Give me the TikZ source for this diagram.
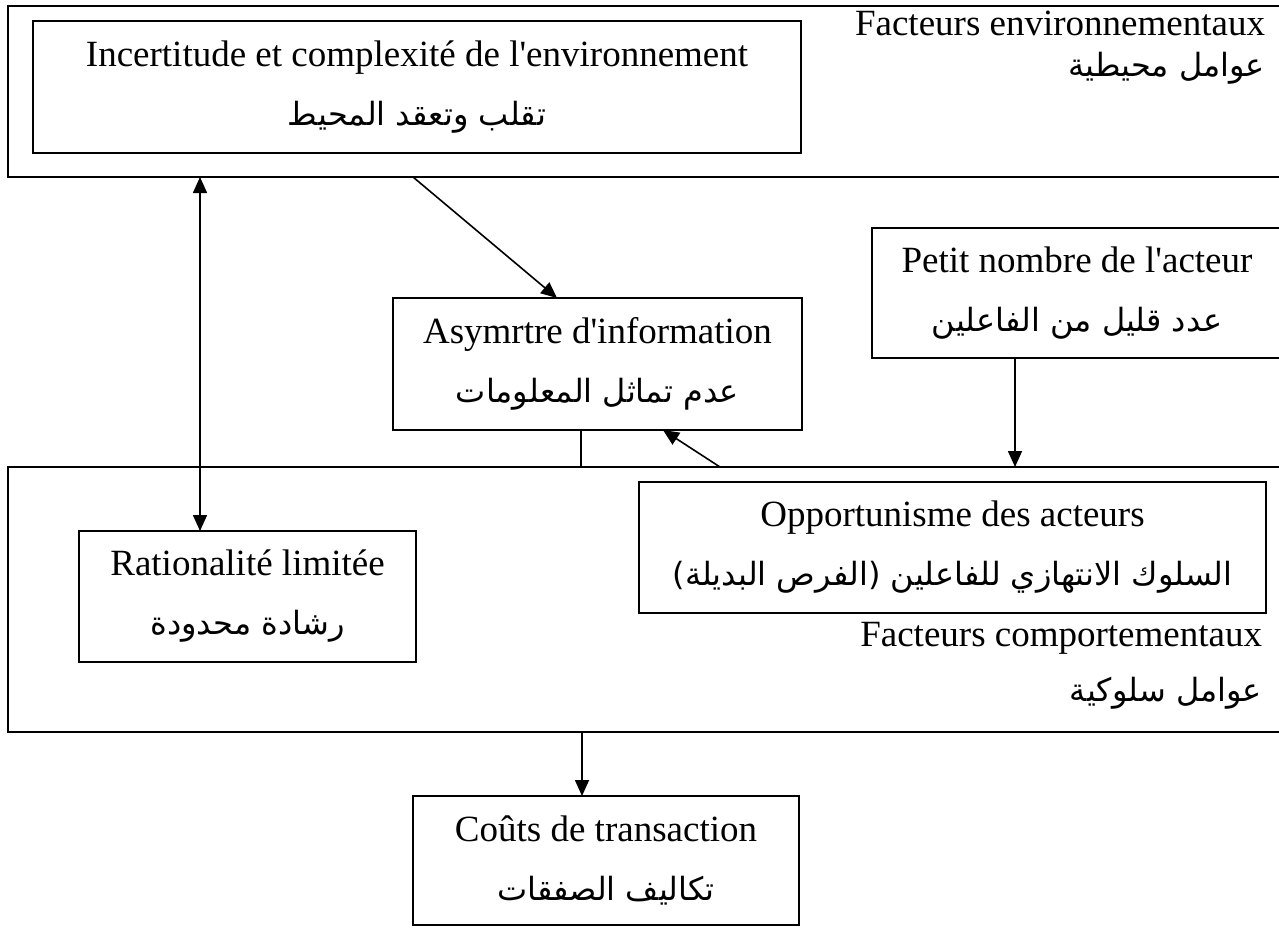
\documentclass[tikz,border=0pt]{standalone}
\usepackage{fontspec}
\setmainfont{Liberation Serif}[Ligatures=TeXOff]
\newfontfamily\arabicfont[Script=Arabic]{DejaVu Sans}
\TeXXeTstate=1
\usetikzlibrary{arrows.meta,calc}
\newcommand{\ar}[1]{{\arabicfont\fontsize{32}{34}\selectfont\beginR #1\endR}}
\begin{document}
\begin{tikzpicture}[x=1pt,y=-1pt,
  every node/.style={inner sep=0pt,outer sep=0pt},
  frame/.style={draw,line width=2.2pt,anchor=north west},
  twoline/.style={align=center,font=\fontsize{37}{59}\selectfont},
  label/.style={anchor=east,font=\fontsize{37}{40}\selectfont},
  tip/.style={-{Triangle[length=16pt,width=14pt]}},
  link/.style={line width=1.6pt}]
\useasboundingbox (0,0) rectangle (1279,927);

% outer groups (their right sides run off the page)
\node[frame,minimum width=1274pt,minimum height=171pt] (env) at (8,6) {};
\node[frame,minimum width=1274pt,minimum height=265pt] (beh) at (8,467) {};

% group captions
\node[label] (envfr) at (1265,23) {Facteurs environnementaux};
\node[label] (envar) at (1265,68) {\ar{عوامل محيطية}};
\node[label] (behfr) at (1262,638) {Facteurs comportementaux};
\node[label] (behar) at (1262,693) {\ar{عوامل سلوكية}};

% factor boxes
\node[frame,twoline,minimum width=768pt,minimum height=132pt] (inc) at (33,21)
  {Incertitude et complexité de l'environnement\\\ar{تقلب وتعقد المحيط}};
\node[frame,twoline,minimum width=409pt,minimum height=132pt] (asy) at (393,298)
  {Asymrtre d'information\\\ar{عدم تماثل المعلومات}};
\node[frame,twoline,minimum width=410pt,minimum height=130pt] (pet) at (872,228)
  {Petit nombre de l'acteur\\\ar{عدد قليل من الفاعلين}};
\node[frame,twoline,minimum width=337pt,minimum height=131pt] (rat) at (79,531)
  {Rationalité limitée\\\ar{رشادة محدودة}};
\node[frame,twoline,minimum width=627pt,minimum height=131pt] (opp) at (639,482)
  {Opportunisme des acteurs\\\ar{السلوك الانتهازي للفاعلين (الفرص البديلة)}};
\node[frame,twoline,minimum width=386pt,minimum height=129pt] (cou) at (413,796)
  {Coûts de transaction\\\ar{تكاليف الصفقات}};

% connector end points
\coordinate (bx) at (200,0);
\coordinate (dx) at (413,0);
\coordinate (ex) at (557,0);
\coordinate (vx) at (581,0);
\coordinate (ox) at (720,0);
\coordinate (hx) at (663,0);
\coordinate (px) at (1015,0);
\coordinate (cx) at (582,0);

% connectors
\draw[link,{Triangle[length=16pt,width=14pt]}-{Triangle[length=16pt,width=14pt]}]
  (env.south -| bx) -- (rat.north -| bx);
\draw[link,tip] (env.south -| dx) -- (asy.north -| ex);
\draw[link] (asy.south -| vx) -- (beh.north -| vx);
\draw[link,tip] (beh.north -| ox) -- (asy.south -| hx);
\draw[link,tip] (pet.south -| px) -- (beh.north -| px);
\draw[link,tip] (beh.south -| cx) -- (cou.north -| cx);
\end{tikzpicture}
\end{document}
